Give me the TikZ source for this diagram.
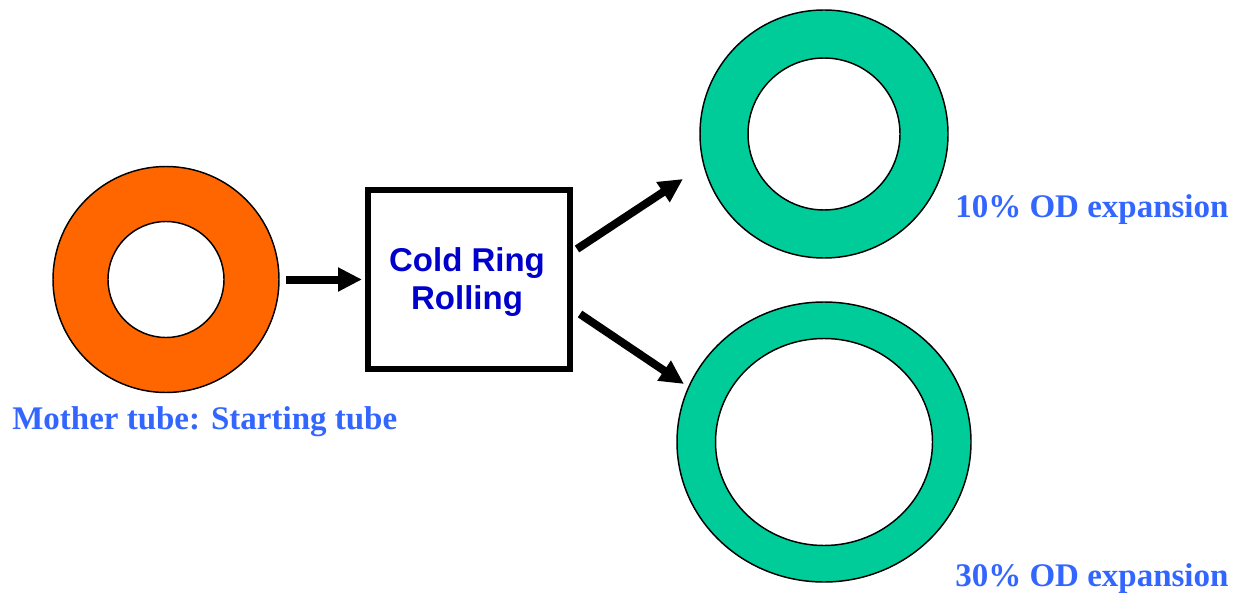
\documentclass[tikz,border=0pt]{standalone}
\usepackage{fontspec}
\setmainfont{Liberation Serif}
\newfontfamily\arialfont{Liberation Sans}
\usetikzlibrary{arrows.meta,shapes.geometric}
\definecolor{ringorange}{HTML}{FF6600}
\definecolor{ringgreen}{HTML}{00CC99}
\definecolor{labelblue}{HTML}{3366FF}
\definecolor{boxblue}{HTML}{0000CC}
\tikzset{
  ringout/.style={draw=black, line width=1.1pt, inner sep=0pt},
  ringin/.style={draw=black, fill=white, line width=1.1pt, inner sep=0pt},
  procbox/.style={draw=black, fill=white, line width=4.5pt, minimum width=151.5pt, minimum height=134.25pt, inner sep=0pt},
  boxtext/.style={align=center, text=boxblue, inner sep=0pt, font=\arialfont\bfseries\fontsize{24.75}{28.5}\selectfont},
  lbl/.style={text=labelblue, font=\bfseries\fontsize{24.75}{29}\selectfont, inner sep=0pt},
  arr/.style={draw=black, line width=6pt, -{Triangle[length=18pt,width=17pt]}}
}
\begin{document}
\begin{tikzpicture}[x=0.75pt,y=-0.75pt]
\useasboundingbox (0,0) rectangle (1241,592);
% mother tube
\node[ringout, circle, fill=ringorange, minimum size=169.5pt] (orange) at (166,279.5) {};
\node[ringin, circle, minimum size=87pt] (orangein) at (166,279.5) {};
% 10% ring
\node[ringout, circle, fill=ringgreen, minimum size=186pt] (top) at (824,134) {};
\node[ringin, circle, minimum size=114pt] (topin) at (824,134) {};
% 30% ring
\node[ringout, ellipse, fill=ringgreen, minimum width=220.5pt, minimum height=210pt] (bot) at (824,442) {};
\node[ringin, ellipse, minimum width=162.75pt, minimum height=155.25pt] (botin) at (824,442) {};
% box
\node[procbox] (box) at (469,279.5) {};
\node[boxtext] (boxlabel) at (467,282.5) {Cold Ring\\Rolling};
% labels
\node[lbl, anchor=base west] (lblmother) at (12,429) {Mother tube: Starting tube};
\node[lbl, anchor=base west] (lbl10) at (955,217) {10\% OD expansion};
\node[lbl, anchor=base west] (lbl30) at (955,586) {30\% OD expansion};
% arrows
\draw[arr, shorten <=4.7pt, shorten >=2.25pt] (orange) -- (box);
\coordinate (up1) at (577,249);
\coordinate (up2) at (683,179);
\coordinate (dn1) at (580,314);
\coordinate (dn2) at (684,384);
\draw[arr] (up1) -- (up2);
\draw[arr] (dn1) -- (dn2);
\end{tikzpicture}
\end{document}
